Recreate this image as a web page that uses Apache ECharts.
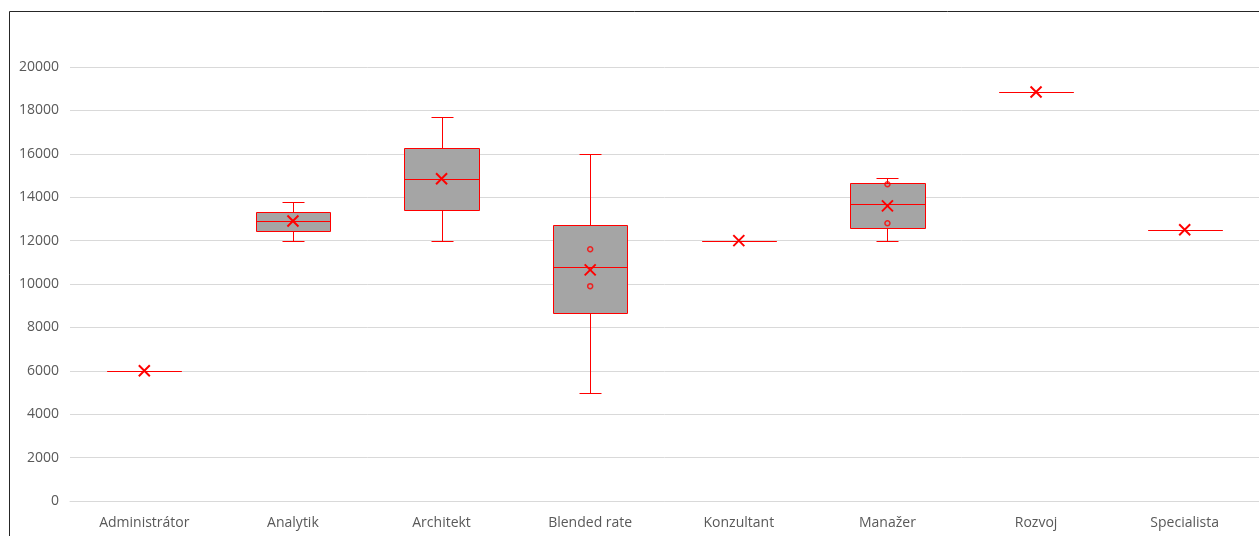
<!DOCTYPE html>
<html><head><meta charset="utf-8">
<style>html,body{margin:0;padding:0;background:#fff;}#c{width:1259px;height:536px;}</style>
<script src="https://cdn.jsdelivr.net/npm/echarts@6/dist/echarts.min.js"></script>
</head><body><div id="c"></div>
<script>
var categories = ['Administrátor','Analytik','Architekt','Blended rate','Konzultant','Manažer','Rozvoj','Specialista'];
var minV   = [6000, 12000, 12000, 5000, 12000, 12000, 18850, 12500];
var q1V    = [6000, 12450, 13400, 8650, 12000, 12600, 18850, 12500];
var medV   = [6000, 12900, 14850, 10800, 12000, 13700, 18850, 12500];
var q3V    = [6000, 13300, 16250, 12700, 12000, 14650, 18850, 12500];
var maxV   = [6000, 13800, 17700, 16000, 12000, 14900, 18850, 12500];
var meanV  = [6000, 12900, 14850, 10650, 12000, 13600, 18850, 12500];
var innerPoints = [[3, 11600], [3, 9900], [5, 14600], [5, 12800]];
var yTicks = [0, 2000, 4000, 6000, 8000, 10000, 12000, 14000, 16000, 18000, 20000];

var boxData = categories.map(function(c, i){ return [i, minV[i], q1V[i], medV[i], q3V[i], maxV[i], meanV[i]]; });
var RED = '#ff0000';
function px(v){ return Math.round(v) + 0.5; }
function ls(w){ return { stroke: RED, lineWidth: w || 1, fill: null }; }

var chart = echarts.init(document.getElementById('c'));
chart.setOption({
  animation: false,
  graphic: [{ type: 'rect', shape: { x: 9.5, y: 11.5, width: 1400, height: 700 }, style: { fill: 'none', stroke: '#262626', lineWidth: 1 }, z: 100 }],
  grid: { left: 70, right: -2, top: 67, bottom: 35, containLabel: false },
  xAxis: {
    type: 'category', data: categories,
    axisLine: { lineStyle: { color: '#d9d9d9' } },
    axisTick: { show: false },
    axisLabel: { color: '#595959', fontFamily: 'Open Sans', fontSize: 14, margin: 15 }
  },
  yAxis: {
    type: 'value', min: yTicks[0], max: yTicks[yTicks.length - 1], interval: 2000,
    axisLine: { show: false }, axisTick: { show: false },
    splitLine: { lineStyle: { color: '#d9d9d9' } },
    axisLabel: { color: '#595959', fontFamily: 'Open Sans', fontSize: 14, margin: 11, formatter: function(v){ return String(v); } }
  },
  series: [{
    type: 'custom',
    data: boxData,
    renderItem: function(params, api){
      var i = api.value(0);
      var band = api.size([1, 0])[0];
      var cx = api.coord([i, 0])[0];
      var half = band * 0.25;
      var cap = 11;
      var yMin = api.coord([i, api.value(1)])[1];
      var yQ1 = api.coord([i, api.value(2)])[1];
      var yMed = api.coord([i, api.value(3)])[1];
      var yQ3 = api.coord([i, api.value(4)])[1];
      var yMax = api.coord([i, api.value(5)])[1];
      var yMean = api.coord([i, api.value(6)])[1];
      var x0 = px(cx - half), x1 = px(cx + half), xc = px(cx);
      var children = [
        { type: 'line', shape: { x1: xc, y1: px(yQ3), x2: xc, y2: px(yMax) }, style: ls() },
        { type: 'line', shape: { x1: xc, y1: px(yQ1), x2: xc, y2: px(yMin) }, style: ls() },
        { type: 'line', shape: { x1: px(cx - cap), y1: px(yMax), x2: px(cx + cap), y2: px(yMax) }, style: ls() },
        { type: 'line', shape: { x1: px(cx - cap), y1: px(yMin), x2: px(cx + cap), y2: px(yMin) }, style: ls() },
        { type: 'rect', shape: { x: x0, y: px(yQ3), width: x1 - x0, height: px(yQ1) - px(yQ3) }, style: { fill: '#a5a5a5', stroke: RED, lineWidth: 1 } },
        { type: 'line', shape: { x1: x0, y1: px(yMed), x2: x1, y2: px(yMed) }, style: ls() }
      ];
      var s = 5.5;
      children.push({ type: 'line', shape: { x1: cx - s, y1: yMean - s, x2: cx + s, y2: yMean + s }, style: ls(2) });
      children.push({ type: 'line', shape: { x1: cx - s, y1: yMean + s, x2: cx + s, y2: yMean - s }, style: ls(2) });
      return { type: 'group', children: children };
    }
  }, {
    type: 'scatter',
    data: innerPoints,
    symbol: 'circle', symbolSize: 5,
    itemStyle: { color: 'rgba(0,0,0,0)', borderColor: RED, borderWidth: 1.5 },
    z: 5
  }]
});
</script></body></html>
